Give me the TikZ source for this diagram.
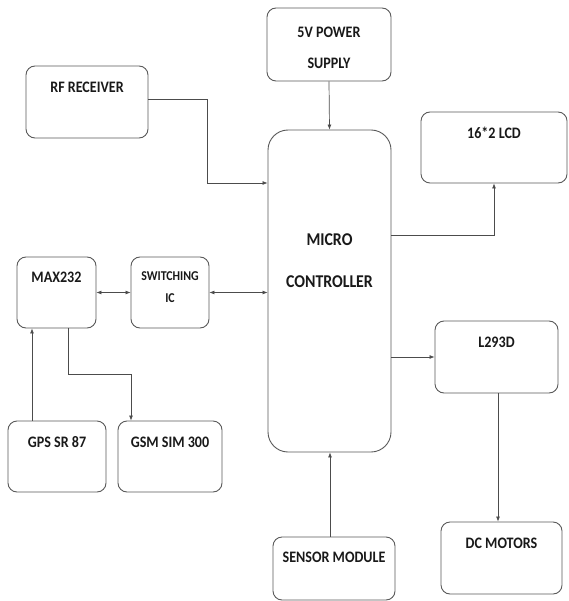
\documentclass[tikz,border=0pt]{standalone}
\usepackage{fontspec}
\setmainfont{Carlito}[FakeStretch=0.88]
\usetikzlibrary{arrows.meta}
\begin{document}
\begin{tikzpicture}[x=1pt,y=-1pt,
  box/.style={draw=black!65, line width=0.9pt, rounded corners=9pt, inner sep=0pt},
  lbl/.style={font=\fontsize{16}{18}\selectfont\bfseries, text=black!90, inner sep=0pt},
  conn/.style={draw=black!70, line width=0.7pt},
  arr/.style={conn, -{Latex[length=5pt,width=4pt]}},
  darr/.style={conn, {Latex[length=5pt,width=4pt]}-{Latex[length=5pt,width=4pt]}}]
\useasboundingbox (0,0) rectangle (568,601);
% boxes
\node[box, minimum width=124, minimum height=73] (power) at (329,44.5) {};
\node[box, minimum width=122, minimum height=72] (rf) at (87,102) {};
\node[box, minimum width=146, minimum height=71] (lcd) at (494,147.5) {};
\node[box, rounded corners=20pt, minimum width=123, minimum height=322] (micro) at (329.5,291) {};
\node[box, minimum width=79, minimum height=71] (max) at (56.5,292.5) {};
\node[box, minimum width=78, minimum height=71] (sw) at (170,292.5) {};
\node[box, minimum width=123, minimum height=72] (l293) at (496.5,357) {};
\node[box, minimum width=98, minimum height=71] (gps) at (57,456.5) {};
\node[box, minimum width=104, minimum height=71] (gsm) at (170,456.5) {};
\node[box, minimum width=122, minimum height=63] (sensor) at (334,568.5) {};
\node[box, minimum width=121, minimum height=72] (dc) at (501.5,558) {};
% labels
\node[lbl] (powert1) at (329,32) {5V POWER};
\node[lbl] (powert2) at (329,63) {SUPPLY};
\node[lbl] (rft) at (87,87) {RF RECEIVER};
\node[lbl] (lcdt) at (494,133) {16*2 LCD};
\node[lbl, font=\fontsize{18}{20}\selectfont\bfseries] (microt1) at (329.5,240) {MICRO};
\node[lbl, font=\fontsize{18}{20}\selectfont\bfseries] (microt2) at (329.5,282) {CONTROLLER};
\node[lbl] (maxt) at (56.5,277) {MAX232};
\node[lbl, font=\fontsize{13.5}{15}\selectfont\bfseries] (swt1) at (170,276) {SWITCHING};
\node[lbl, font=\fontsize{13.5}{15}\selectfont\bfseries] (swt2) at (170,298) {IC};
\node[lbl] (l293t) at (496.5,342) {L293D};
\node[lbl] (gpst) at (57,442) {GPS SR 87};
\node[lbl] (gsmt) at (170,442) {GSM SIM 300};
\node[lbl] (sensort) at (334,557) {SENSOR MODULE};
\node[lbl] (dct) at (501.5,543) {DC MOTORS};
% connectors
\draw[arr] ([yshift=3pt]rf.east) -| (207,183) -- (micro.west |- 0,183);
\draw[arr] (power.south) -- (micro.north);
\draw[arr] (micro.east |- 0,235) -| (lcd.south);
\draw[darr] (max.east) -- (sw.west);
\draw[darr] (sw.east) -- (micro.west |- sw.east);
\draw[arr] (max.south -| 68,0) |- (131,374) -- (gsm.north -| 131,0);
\draw[arr] (gps.north -| 32,0) -- (max.south -| 32,0);
\draw[arr] (micro.east |- l293.west) -- (l293.west);
\draw[arr] (l293.south -| 498,0) -- (dc.north -| 498,0);
\draw[arr] (sensor.north -| 330,0) -- (micro.south -| 330,0);
\end{tikzpicture}
\end{document}
